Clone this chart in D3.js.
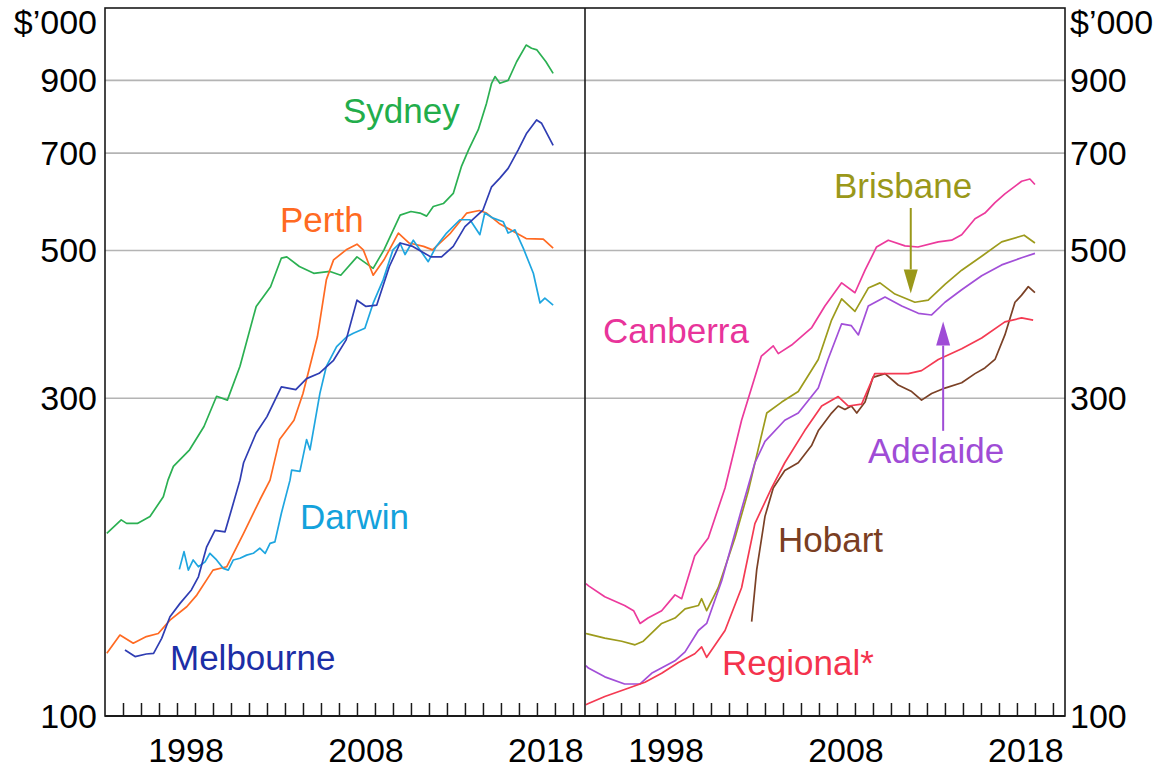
<!DOCTYPE html>
<html>
<head>
<meta charset="utf-8">
<script src="https://cdn.jsdelivr.net/npm/d3@7"></script>
<style>
  body { margin: 0; background: #fff; }
  text { font-family: "Liberation Sans", Arial, sans-serif; }
</style>
</head>
<body>
<svg id="chart" width="1161" height="771"></svg>
<script>
"use strict";

// Axis values
const yTicks = [100, 300, 500, 700, 900];
const yGrid = [300, 500, 700, 900];
const yearLabels = [1998, 2008, 2018];
const yearTicks = d3.range(1995, 2021);

// Median dwelling prices, $'000 (year, value)
const sydney = [[1994.1,188],[1994.9,197],[1995.2,194.6],[1995.8,194.6],[1996.5,199.3],[1997.24,213.4],[1997.5,226],[1997.8,237],[1998.7,251],[1999.5,272],[2000.2,302],[2000.8,298],[2001.5,335],[2002.4,412],[2003.2,441],[2003.8,487],[2004.1,489],[2004.8,473],[2005.6,462],[2006.5,465],[2007.1,459],[2008.0,489],[2008.9,470],[2009.5,501],[2010.4,565],[2011.0,572],[2011.5,569],[2011.87,563],[2012.24,582],[2012.8,588],[2013.35,609],[2013.8,668],[2014.2,708],[2014.74,759],[2015.2,832],[2015.48,891],[2015.67,912],[2015.94,891],[2016.4,900],[2016.87,960],[2017.4,1017],[2017.7,1006],[2018.0,1000],[2018.5,960],[2018.9,922]];
const melbourne = [[1995.11,125.6],[1995.67,122.8],[1996.3,123.9],[1996.7,124.2],[1997.15,130.8],[1997.61,140.9],[1998.17,147.6],[1998.8,154.6],[1999.19,161.8],[1999.65,179.5],[2000.11,190],[2000.67,189],[2001.13,208.6],[2001.5,226],[2001.7,240],[2002.4,266],[2003.0,281.5],[2003.8,312],[2004.6,309],[2005.2,321],[2005.9,327],[2006.7,342],[2007.4,367],[2008.0,421],[2008.5,412],[2009.1,414],[2009.8,473],[2010.4,513],[2011.1,507],[2012.1,489],[2012.7,489],[2013.35,507],[2014.0,543],[2015.0,575],[2015.48,623],[2015.94,642],[2016.4,664],[2016.96,708],[2017.43,750],[2017.98,785],[2018.26,776],[2018.9,719]];
const perth = [[1994.1,124.2],[1994.83,132.3],[1995.57,128.6],[1996.3,131.6],[1996.96,133],[1997.61,139.3],[1998.54,145.9],[1999.1,151.9],[2000.0,165.6],[2000.76,167.5],[2001.7,188],[2002.6,211],[2003.17,226],[2003.7,260],[2004.5,278],[2005.0,305],[2005.8,371],[2006.3,452],[2006.7,484],[2007.4,501],[2008.0,511],[2008.35,501],[2008.9,459],[2009.5,484],[2010.3,531],[2010.9,513],[2011.7,507],[2012.2,501],[2013.2,531],[2014.1,569],[2014.8,574],[2015.2,569],[2015.9,549],[2016.7,534],[2017.4,521],[2018.35,520],[2018.9,504]];
const darwin = [[1998.13,166],[1998.39,176.5],[1998.63,165.6],[1998.9,171.5],[1999.19,167.5],[1999.56,170.4],[1999.83,175.5],[2000.2,171.5],[2000.57,166.6],[2000.85,165.6],[2001.13,171.5],[2001.5,172.5],[2001.87,174.4],[2002.24,175.5],[2002.6,178.6],[2002.9,175.5],[2003.17,181.6],[2003.44,182.6],[2003.8,201.6],[2004.28,226],[2004.37,234],[2004.83,233],[2005.2,260],[2005.39,251],[2005.94,305],[2006.3,335],[2006.87,358.5],[2007.43,371],[2007.8,375.5],[2008.44,382],[2008.9,416.7],[2009.46,452],[2010.0,501],[2010.39,513],[2010.67,493],[2011.13,518],[2011.5,501],[2011.96,481],[2012.4,507],[2012.98,531],[2013.72,556],[2014.28,556],[2014.83,528],[2015.1,569],[2015.57,559],[2016.13,552],[2016.4,531],[2016.78,537],[2017.24,504],[2017.8,462],[2018.17,417],[2018.44,424],[2018.9,414]];
const canberra = [[1994.05,158],[1994.2,156.8],[1995.1,151],[1996.2,146.5],[1996.7,143.9],[1997.06,137.7],[1997.5,140.3],[1998.26,143.9],[1999.0,152],[1999.37,150],[2000.1,174],[2000.85,185],[2001.78,220],[2002.7,278],[2003.8,347],[2004.46,359.5],[2004.74,350],[2005.48,360.5],[2006.6,383],[2007.33,412.7],[2008.26,447],[2009.0,432],[2009.56,467],[2010.2,506],[2010.85,518],[2011.78,508],[2012.5,506],[2013.63,515],[2014.37,518],[2014.93,528],[2015.67,558],[2016.22,569],[2016.78,590],[2017.33,608],[2018.26,635],[2018.72,640],[2019.0,628]];
const brisbane = [[1994.05,133],[1994.19,132.7],[1995.1,130.9],[1996.04,129.5],[1996.78,127.9],[1997.24,129.5],[1998.26,137.7],[1999.0,140.3],[1999.56,144.8],[2000.3,146.5],[2000.48,150],[2000.76,143.9],[2001.4,155.8],[2002.33,185],[2003.07,217.4],[2003.63,252],[2004.1,285],[2004.93,296],[2005.85,307],[2006.96,343],[2007.7,393],[2008.26,423],[2009.0,405],[2009.74,439],[2010.39,447],[2011.22,430],[2012.33,418],[2013.07,421],[2014.0,444.5],[2014.93,467],[2016.04,490],[2017.15,515],[2018.4,527],[2019.0,513]];
const adelaide = [[1994.05,119],[1994.19,118],[1995.1,114.5],[1996.2,111.7],[1997.06,111.7],[1997.7,115.9],[1999.0,121],[1999.56,124.8],[2000.3,134.4],[2000.76,137.7],[2001.6,159.7],[2002.7,204.3],[2003.44,240],[2004.0,258.4],[2005.1,278],[2005.85,285],[2006.96,310.7],[2007.5,343],[2008.26,388],[2008.8,385.5],[2009.19,373.4],[2009.74,412.7],[2010.67,425.6],[2011.6,412.7],[2012.52,402.3],[2013.26,400],[2014.0,418],[2014.93,436.4],[2016.04,458],[2017.15,475.6],[2018.26,487.5],[2019.0,495]];
const regional = [[1994.05,104],[1994.19,104.4],[1995.1,107],[1996.2,109.6],[1997.33,112.4],[1998.26,115.9],[1999.19,120.3],[2000.1,124],[2000.48,127],[2000.76,122.5],[2001.78,134.4],[2002.7,155.8],[2003.44,194.5],[2004.37,220],[2005.1,240],[2006.2,268],[2007.15,292],[2008.07,301.7],[2008.63,292],[2009.37,294],[2010.1,326.6],[2010.85,326.6],[2011.96,326.6],[2012.7,330],[2013.63,343],[2014.93,356],[2016.04,369.4],[2017.33,390.6],[2018.26,396],[2018.9,393]];
const hobart = [[2003.26,138.6],[2003.54,165.7],[2004.0,199.4],[2004.46,220],[2005.1,233.7],[2005.85,240],[2006.6,255],[2006.96,268],[2007.7,285],[2008.07,292],[2008.44,288.5],[2008.8,292],[2009.1,285],[2009.56,296],[2010.0,322.4],[2010.67,326.6],[2011.4,314],[2012.15,307],[2012.7,298],[2013.26,305],[2014.0,310.7],[2014.93,316.4],[2015.67,326.6],[2016.22,333.1],[2016.78,343],[2017.33,373.4],[2017.89,418],[2018.26,428.4],[2018.63,441.2],[2019.0,432]];

const svg = d3.select("#chart");

const plotTop = 8, plotBottom = 716;
const panels = [
  {x0: 105, x1: 585},
  {x0: 585, x1: 1065},
];
const xDomain = [1994, 2020.67];

const y = d3.scaleLog().domain([100, 1156]).range([plotBottom, plotTop]);
panels.forEach(p => {
  p.x = d3.scaleLinear().domain(xDomain).range([p.x0, p.x1]);
});

// Grid
svg.append("g")
  .selectAll("line")
  .data(yGrid)
  .enter()
  .append("line")
  .attr("x1", panels[0].x0)
  .attr("x2", panels[1].x1)
  .attr("y1", d => y(d))
  .attr("y2", d => y(d))
  .attr("stroke", "#b4b4b4")
  .attr("stroke-width", 1.6);

// Year ticks and labels
panels.forEach(p => {
  const axis = d3.axisBottom(p.x)
    .tickValues(yearTicks)
    .tickSize(-13)
    .tickFormat("");
  const g = svg.append("g")
    .attr("transform", `translate(0,${plotBottom})`)
    .call(axis);
  g.select(".domain").remove();
  g.selectAll(".tick line").attr("stroke", "#1a1a1a").attr("stroke-width", 1.5);

  svg.append("g")
    .selectAll("text")
    .data(yearLabels)
    .enter()
    .append("text")
    .attr("x", d => p.x(d + 0.5))
    .attr("y", 750)
    .attr("dy", "0.35em")
    .attr("text-anchor", "middle")
    .attr("font-size", 34)
    .attr("fill", "#000")
    .text(d => d);
});

// Value labels both sides
const sides = [
  {x: 97, anchor: "end"},
  {x: 1070, anchor: "start"},
];
sides.forEach(s => {
  svg.append("g")
    .selectAll("text")
    .data(yTicks)
    .enter()
    .append("text")
    .attr("x", s.x)
    .attr("y", d => y(d))
    .attr("dy", "0.35em")
    .attr("text-anchor", s.anchor)
    .attr("font-size", 34)
    .attr("fill", "#000")
    .text(d => d);

  svg.append("text")
    .attr("x", s.x)
    .attr("y", 22)
    .attr("dy", "0.35em")
    .attr("text-anchor", s.anchor)
    .attr("font-size", 34)
    .attr("fill", "#000")
    .text("$\u2019000");
});

// Series
const series = [
  {data: sydney, panel: 0, color: "#2bb052"},
  {data: perth, panel: 0, color: "#ff6a22"},
  {data: darwin, panel: 0, color: "#1fa6e0"},
  {data: melbourne, panel: 0, color: "#2f3db3"},
  {data: canberra, panel: 1, color: "#ec3a9c"},
  {data: brisbane, panel: 1, color: "#9d9b1c"},
  {data: adelaide, panel: 1, color: "#a24fd8"},
  {data: hobart, panel: 1, color: "#7b4126"},
  {data: regional, panel: 1, color: "#f43a52"},
];

series.forEach(s => {
  const p = panels[s.panel];
  svg.append("path")
    .datum(s.data)
    .attr("fill", "none")
    .attr("stroke", s.color)
    .attr("stroke-width", 1.7)
    .attr("stroke-linejoin", "round")
    .attr("d", d3.line()
      .x(d => p.x(d[0]))
      .y(d => y(d[1])));
});

// Series labels
const labels = [
  {text: "Sydney", x: 343, y: 111, color: "#22ad4b"},
  {text: "Perth", x: 280, y: 220, color: "#ff6a22"},
  {text: "Darwin", x: 300, y: 517, color: "#13a2dc"},
  {text: "Melbourne", x: 170, y: 658, color: "#1c2ea6"},
  {text: "Canberra", x: 603, y: 331, color: "#e8349a"},
  {text: "Brisbane", x: 834, y: 186, color: "#9a981a"},
  {text: "Adelaide", x: 868, y: 451, color: "#9f4cd6"},
  {text: "Hobart", x: 778, y: 540, color: "#7a3e22"},
  {text: "Regional*", x: 722, y: 663, color: "#f4334d"},
];

svg.append("g")
  .selectAll("text")
  .data(labels)
  .enter()
  .append("text")
  .attr("x", d => d.x)
  .attr("y", d => d.y)
  .attr("dy", "0.35em")
  .attr("font-size", 35)
  .attr("fill", d => d.color)
  .text(d => d.text);

// Arrows, in data units of the right panel
const arrows = [
  {from: [2012.1, 579], to: [2012.1, 431], color: "#9a981a"},
  {from: [2013.9, 268], to: [2013.9, 391], color: "#9f4cd6"},
];

arrows.forEach(a => {
  const xs = panels[1].x;
  const x = xs(a.from[0]);
  const y0 = y(a.from[1]);
  const y1 = y(a.to[1]);
  const dir = y1 > y0 ? 1 : -1;
  const headLen = 24, headHalf = 7;
  svg.append("line")
    .attr("x1", x).attr("x2", x)
    .attr("y1", y0).attr("y2", y1 - dir * headLen)
    .attr("stroke", a.color)
    .attr("stroke-width", 2);
  svg.append("path")
    .attr("d", `M${x},${y1} L${x - headHalf},${y1 - dir * headLen} L${x + headHalf},${y1 - dir * headLen} Z`)
    .attr("fill", a.color);
});

// Frame
svg.append("rect")
  .attr("x", panels[0].x0)
  .attr("y", plotTop)
  .attr("width", panels[1].x1 - panels[0].x0)
  .attr("height", plotBottom - plotTop)
  .attr("fill", "none")
  .attr("stroke", "#1a1a1a")
  .attr("stroke-width", 1.6);

svg.append("line")
  .attr("x1", panels[0].x1).attr("x2", panels[0].x1)
  .attr("y1", plotTop).attr("y2", plotBottom)
  .attr("stroke", "#1a1a1a")
  .attr("stroke-width", 1.6);

svg.append("line")
  .attr("x1", panels[0].x0).attr("x2", panels[1].x1)
  .attr("y1", plotBottom).attr("y2", plotBottom)
  .attr("stroke", "#1a1a1a")
  .attr("stroke-width", 2.2);
</script>
</body>
</html>
